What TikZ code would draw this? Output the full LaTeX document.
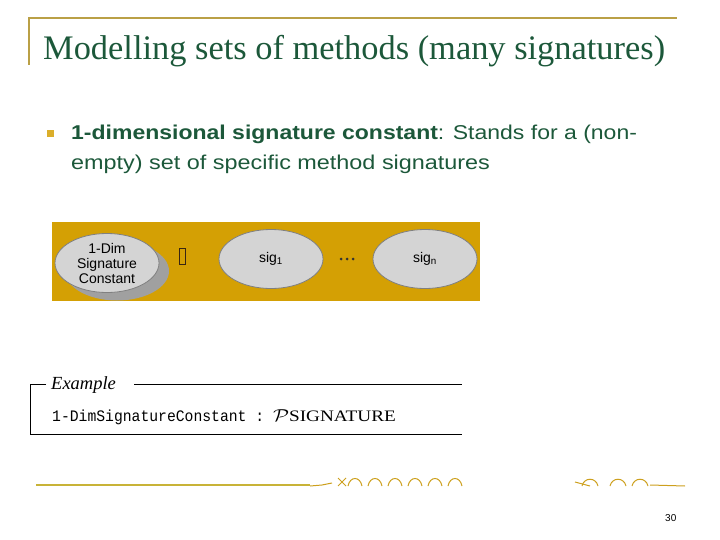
\documentclass[tikz,border=0pt]{standalone}
\usepackage{fontspec}
\setmainfont{Liberation Serif}
\setsansfont{Liberation Sans}
\setmonofont{Liberation Mono}
\usepackage{amsmath}

\definecolor{titlegreen}{RGB}{28,88,58}
\definecolor{rulegold}{RGB}{186,160,70}
\definecolor{boxgold}{RGB}{212,160,4}
\definecolor{ovalgrey}{RGB}{212,212,212}
\definecolor{shadowgrey}{RGB}{160,160,160}
\definecolor{ornament}{RGB}{205,160,30}

\tikzset{
  txt/.style = {inner sep = 0, anchor = base west},
  oval/.style = {ellipse, draw = gray, fill = ovalgrey, line width = 0.8pt,
    minimum width = 104pt, minimum height = 59pt, inner sep = 0,
    font = \sffamily\fontsize{14}{15}\selectfont, align = center},
  orn/.style = {ornament, line width = 1pt}
}
\usetikzlibrary{shapes.geometric}

\begin{document}
\begin{tikzpicture}[x = 1pt, y = -1pt]
\useasboundingbox (0, 0) rectangle (720, 540);
% title rules
\draw[rulegold, line width = 1.2pt] (29, 65) |- (677, 18);
\node (title) [txt, text = titlegreen] at (43, 60)
  {\fontsize{34.4}{36}\selectfont Modelling sets of methods (many signatures)};

% bullet
\fill[boxgold!85] (47, 130) rectangle (54, 137);
\node (line1) [txt, text = titlegreen] at (71, 140)
  {\sffamily\fontsize{20}{24}\selectfont\scalebox{1.15}[1]{\textbf{1-dimensional signature constant}: Stands for a (non-}};
\node (line2) [txt, text = titlegreen] at (71, 170)
  {\sffamily\fontsize{20}{24}\selectfont\scalebox{1.17}[1]{empty) set of specific method signatures}};

% gold panel
\fill[boxgold] (52, 222) rectangle (480, 301);
\fill[shadowgrey] (117, 271) ellipse [x radius = 52, y radius = 29.5];
\node (dimconst) [oval] at (107, 263) {1-Dim\\Signature\\Constant};
\draw[black!70!brown, line width = 1.6pt] (179.5, 248.5) rectangle (185.5, 264.5);
\node (sigone) [oval] at (271, 259) {sig\textsubscript{1}};
\foreach \x in {341, 347, 353}
  \fill[black!80] (\x, 259) circle [radius = 1.5];
\node (sigen) [oval] at (425, 259) {sig\textsubscript{n}};

% example box
\draw[line width = 0.7pt] (46, 384) -- (30, 384) |- (462, 434);
\draw[line width = 0.7pt] (134, 384) -- (462, 384);
\node (extitle) [txt] at (51, 389) {\fontsize{18.5}{19}\selectfont\itshape Example};
\node (exbody) [txt] at (52, 421)
  {\scalebox{0.92}[1]{\ttfamily\fontsize{16}{18}\selectfont 1-DimSignatureConstant : }%
   \scalebox{1.2}[1]{\fontsize{16}{18}\selectfont$\mathcal{P}$SIGNATURE}};

% footer ornament
\draw[rulegold!80!yellow, line width = 1.5pt] (36, 485) -- (310, 485);
\draw[orn] (310, 486) -- (322, 485) -- (332, 483);
\foreach \x in {348, 368, ..., 448}
  \draw[orn] (\x, 486) .. controls (\x + 2, 476) and (\x + 12, 476) .. (\x + 14, 486);
\draw[orn] (338, 478) -- (346, 486) (338, 486) -- (346, 478);
\foreach \x in {582, 610, 632}
  \draw[orn] (\x, 486) .. controls (\x + 2, 477) and (\x + 14, 477) .. (\x + 16, 486);
\draw[orn] (575, 482) -- (590, 486) (650, 485) -- (685, 486);

% page number
\node (pageno) [txt] at (665, 521) {\sffamily\fontsize{10}{11}\selectfont 30};
\end{tikzpicture}
\end{document}
